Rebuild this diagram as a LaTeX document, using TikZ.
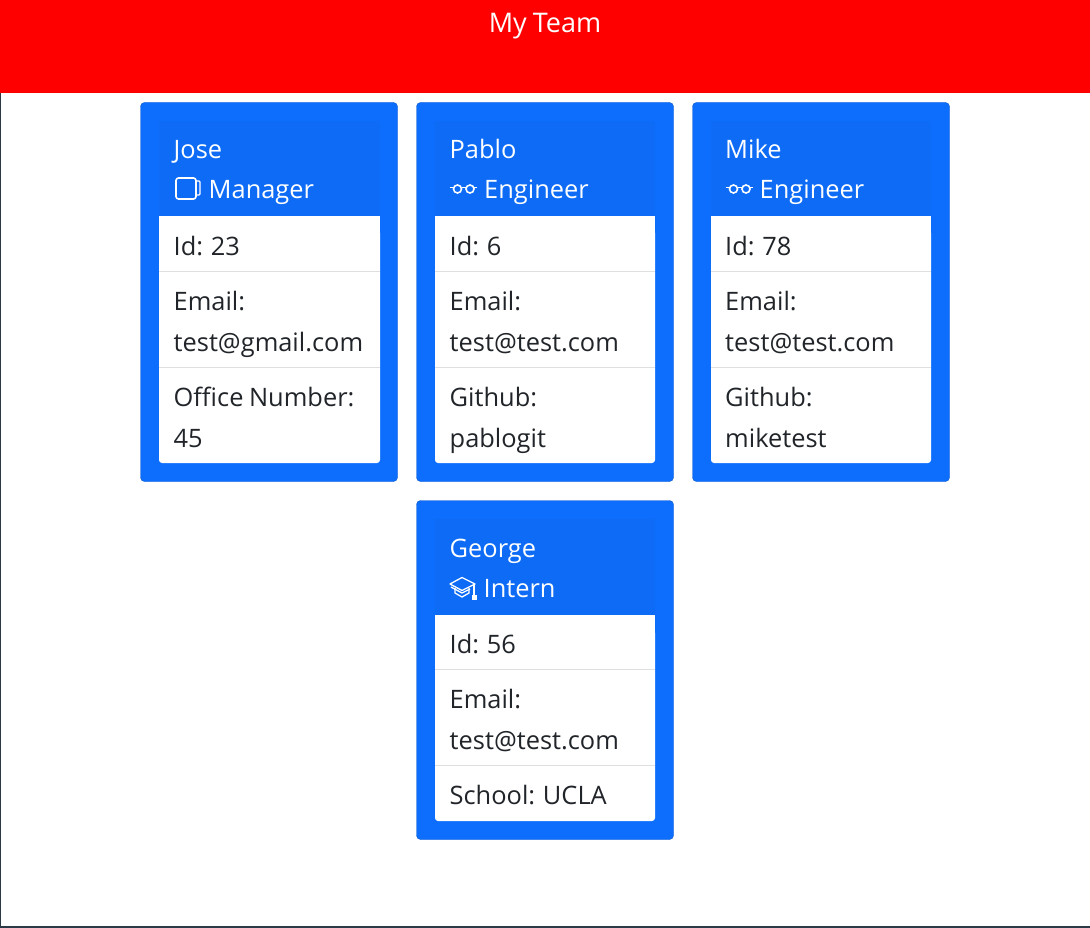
\documentclass[tikz,border=0pt]{standalone}
\usepackage{fontspec}
\setmainfont[WordSpace=0.85]{Open Sans}
\usetikzlibrary{positioning,calc}
\definecolor{teamred}{HTML}{FF0000}
\definecolor{cardblue}{HTML}{0D6EFD}
\definecolor{headblue}{HTML}{0D6BF6}
\definecolor{cardedge}{HTML}{0A58CA}
\definecolor{rowline}{HTML}{DFDFDF}
\definecolor{inktext}{HTML}{212529}
\definecolor{framedark}{HTML}{2B3A47}
\tikzset{
  headtext/.style={anchor=base west, inner sep=0pt, text=white, font=\fontsize{25.4}{28}\selectfont},
  rowtext/.style={anchor=base west, inner sep=0pt, text=inktext, font=\fontsize{25.4}{28}\selectfont},
  iconline/.style={draw=white, line width=1.6pt, fill=none},
}
\begin{document}
\begin{tikzpicture}[x=1pt,y=-1pt]
\useasboundingbox (0,0) rectangle (1090,928);
\fill[white] (0,0) rectangle (1090,928);
\fill[teamred] (0,0) rectangle (1090,93);
\fill[framedark] (0,926) rectangle (1090,928);
\fill[framedark] (0,93) rectangle (1,928);
\node[anchor=base, inner sep=0pt, text=white, font=\fontsize{27}{30}\selectfont] (title) at (545,33) {My Team};
% cards
\foreach \x/\inw/\tx/\tag/\who/\job/\jobx/\idn/\mail/\extraA/\extraB in {
  140/221/33.5/jose/Jose/Manager/68.5/23/test@gmail.com/Office Number:/45,
  416/220/33.5/pablo/Pablo/Engineer/68/6/test@test.com/Github:/pablogit,
  692/220/33/mike/Mike/Engineer/67.5/78/test@test.com/Github:/miketest} {
  \draw[fill=cardblue, draw=cardedge, rounded corners=4pt] (\x+0.5,102.5) rectangle ++(257,379);
  \fill[headblue] (\x+19,121) rectangle ++(\inw,95);
  \fill[white, rounded corners=3pt] (\x+19,230) rectangle ++(\inw,233);
  \fill[white] (\x+19,216) rectangle ++(\inw,30);
  \draw[rowline] (\x+19,271.5) -- ++(\inw,0);
  \draw[rowline] (\x+19,367.5) -- ++(\inw,0);
  \node[headtext] (\tag name) at (\x+\tx,159) {\who};
  \node[headtext] (\tag job) at (\x+\jobx,199) {\job};
  \node[rowtext] (\tag id) at (\x+\tx,255) {Id: \idn};
  \node[rowtext] (\tag email) at (\x+\tx,310) {Email:};
  \node[rowtext] (\tag addr) at (\x+\tx,351) {\mail};
  \node[rowtext] (\tag extra) at (\x+\tx,406) {\extraA};
  \node[rowtext] (\tag value) at (\x+\tx,447) {\extraB};
}
% George
\draw[fill=cardblue, draw=cardedge, rounded corners=4pt] (416.5,500.5) rectangle (673.5,839.5);
\fill[headblue] (435,519) rectangle (655,615);
\fill[white, rounded corners=3pt] (435,630) rectangle (655,821);
\fill[white] (435,615) rectangle (655,645);
\draw[rowline] (435,669.5) -- (655,669.5);
\draw[rowline] (435,765.5) -- (655,765.5);
\node[headtext] (george name) at (449.5,557) {George};
\node[headtext] (george job) at (483.5,597) {Intern};
\node[rowtext] (george id) at (449.5,653) {Id: 56};
\node[rowtext] (george email) at (449.5,708) {Email:};
\node[rowtext] (george addr) at (449.5,749) {test@test.com};
\node[rowtext] (george extra) at (449.5,804) {School: UCLA};
% mug
\draw[iconline, rounded corners=2.5pt] (176,178) rectangle (196,199);
\draw[white, line width=1.2pt, rounded corners=1pt] (196,181) -- (200,181) -- (200,195) -- (196,195);
% glasses
\foreach \x in {450,726} {
  \draw[iconline] (\x+7.5,189) circle (4);
  \draw[iconline] (\x+20,189) circle (4);
  \draw[white, line width=1.4pt] (\x+11.5,187.5) -- (\x+16,187.5);
  \draw[white, line width=1.4pt] (\x-0.5,187.5) -- (\x+3.5,187.5);
  \draw[white, line width=1.4pt] (\x+27,187.5) -- (\x+24,187.5);
}
% cap
\draw[white, line width=1.3pt, line join=round] (462,577.5) -- (475,584) -- (462,590.5) -- (450,584) -- cycle;
\draw[white, line width=1.3pt] (455,588) -- (455,593) -- (462,597) -- (469,593) -- (469,588);
\draw[white, line width=1.3pt] (451,587) -- (462,593) -- (470,589);
\draw[white, line width=1.3pt] (474,584) -- (474,596);
\fill[white] (471.5,595) rectangle (476.5,600);
\end{tikzpicture}
\end{document}
